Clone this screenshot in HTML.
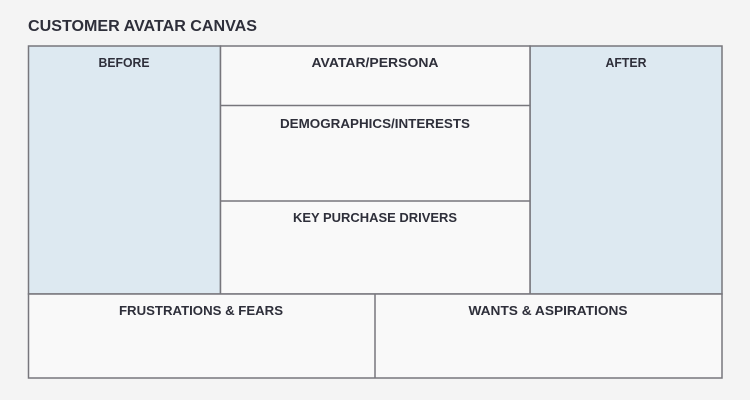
<!DOCTYPE html>
<html><head><meta charset="utf-8"><style>
html,body{margin:0;padding:0;background:#f4f4f4;}
svg{display:block}
text{font-family:"Liberation Sans",sans-serif;font-weight:bold;fill:#2e2f3a;}
</style></head><body>
<svg width="750" height="400" viewBox="0 0 750 400" xmlns="http://www.w3.org/2000/svg">
<rect width="750" height="400" fill="#f4f4f4"/>
<text x="28" y="31" font-size="15.5" textLength="229" lengthAdjust="spacingAndGlyphs">CUSTOMER AVATAR CANVAS</text>
<g stroke="#77767c" stroke-width="1.5">
<rect x="28.5" y="46" width="192" height="248" fill="#dde9f1"/>
<rect x="530" y="46" width="192" height="248" fill="#dde9f1"/>
<rect x="220.5" y="46" width="309.5" height="248" fill="#f9f9f9"/>
<line x1="220.5" y1="105.5" x2="530" y2="105.5"/>
<line x1="220.5" y1="201" x2="530" y2="201"/>
<rect x="28.5" y="294" width="693.5" height="84" fill="#f9f9f9"/>
<line x1="375" y1="294" x2="375" y2="378"/>
</g>
<g font-size="12.5" text-anchor="middle" lengthAdjust="spacingAndGlyphs">
<text x="124" y="67" textLength="51" lengthAdjust="spacingAndGlyphs">BEFORE</text>
<text x="375" y="67" textLength="127" lengthAdjust="spacingAndGlyphs">AVATAR/PERSONA</text>
<text x="626" y="67" textLength="41" lengthAdjust="spacingAndGlyphs">AFTER</text>
<text x="375" y="128" textLength="190" lengthAdjust="spacingAndGlyphs">DEMOGRAPHICS/INTERESTS</text>
<text x="375" y="222" textLength="164" lengthAdjust="spacingAndGlyphs">KEY PURCHASE DRIVERS</text>
<text x="201" y="315" textLength="164" lengthAdjust="spacingAndGlyphs">FRUSTRATIONS &amp; FEARS</text>
<text x="548" y="315" textLength="159" lengthAdjust="spacingAndGlyphs">WANTS &amp; ASPIRATIONS</text>
</g>
</svg>
</body></html>
